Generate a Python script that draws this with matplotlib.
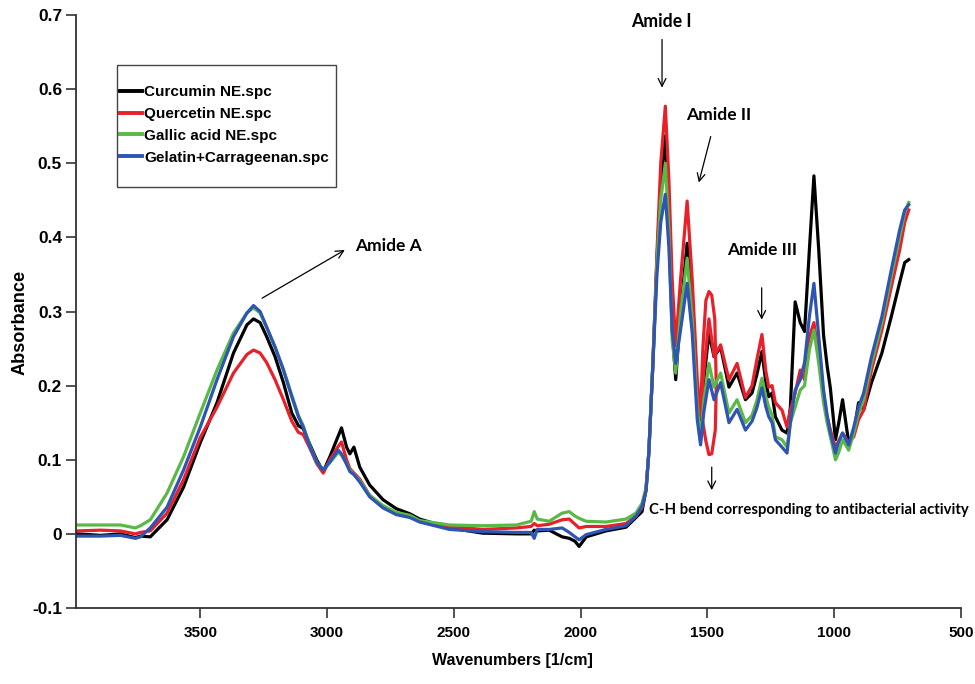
import matplotlib
matplotlib.use("Agg")
import matplotlib.pyplot as plt
from matplotlib import font_manager
from matplotlib.patches import Rectangle

# ---------------- data ----------------
wavenumber = [
    3984, 3893, 3815, 3756, 3736,
    3697, 3631, 3566, 3500, 3434, 3369, 3316, 3290, 3264, 3238, 3205, 3172, 3139, 3113,
    3094, 3067, 3041, 3015, 2989, 2956, 2943, 2923, 2910, 2894, 2871, 2832, 2779, 2727, 2673,
    2635, 2517, 2387, 2254, 2195, 2183, 2171, 2124, 2073, 2045, 2022, 2006, 1978, 1900, 1821,
    1782, 1758,
    1742, 1731, 1715, 1699, 1684, 1666, 1652, 1639, 1625, 1606,
    1580, 1560, 1540, 1527, 1514, 1494, 1474, 1448, 1415, 1383,
    1350, 1324, 1305, 1285, 1270, 1258, 1245, 1232, 1206, 1186,
    1173, 1154, 1134, 1117, 1098, 1080, 1061, 1042, 1028, 1015,
    995, 982, 967, 943, 923, 904, 884, 853, 812, 775,
    742, 722, 706,
]

curcumin = [
    0.0, -0.002, 0.0, -0.005, -0.003,
    -0.004, 0.019, 0.063, 0.123, 0.177, 0.244, 0.282, 0.29, 0.285, 0.266, 0.239, 0.204, 0.163, 0.146,
    0.142, 0.12, 0.1, 0.084, 0.104, 0.132, 0.143, 0.117, 0.108, 0.117, 0.09, 0.066, 0.046, 0.034, 0.027,
    0.02, 0.008, 0.001, 0.0, 0.0, 0.005, 0.004, 0.005, -0.004, -0.006, -0.01, -0.017, -0.004, 0.004, 0.009,
    0.022, 0.03,
    0.06, 0.11, 0.23, 0.37, 0.47, 0.537, 0.433, 0.275, 0.208, 0.298,
    0.392, 0.298, 0.185, 0.14, 0.208, 0.271, 0.239, 0.252, 0.198, 0.217,
    0.181, 0.19, 0.215, 0.246, 0.205, 0.185, 0.19, 0.158, 0.14, 0.136,
    0.17, 0.313, 0.285, 0.273, 0.383, 0.483, 0.383, 0.268, 0.227, 0.196,
    0.127, 0.15, 0.181, 0.123, 0.136, 0.177, 0.167, 0.204, 0.244, 0.293,
    0.339, 0.366, 0.37,
]

quercetin = [
    0.004, 0.005, 0.004, 0.0, 0.002,
    0.004, 0.028, 0.073, 0.13, 0.171, 0.217, 0.242, 0.248, 0.244, 0.231, 0.208, 0.181, 0.152, 0.137,
    0.134, 0.115, 0.095, 0.082, 0.1, 0.118, 0.124, 0.1, 0.088, 0.082, 0.074, 0.052, 0.036, 0.027, 0.023,
    0.017, 0.01, 0.006, 0.008, 0.01, 0.014, 0.011, 0.013, 0.019, 0.02, 0.013, 0.008, 0.01, 0.01, 0.014,
    0.024, 0.035,
    0.06, 0.11, 0.23, 0.38, 0.50, 0.577, 0.478, 0.343, 0.254, 0.343,
    0.449, 0.343, 0.208, 0.164, 0.22, 0.29, 0.24, 0.255, 0.208, 0.23,
    0.184, 0.2, 0.235, 0.269, 0.22, 0.198, 0.2, 0.177, 0.167, 0.144,
    0.167, 0.19, 0.221, 0.208, 0.266, 0.285, 0.239, 0.185, 0.158, 0.14,
    0.117, 0.125, 0.136, 0.123, 0.131, 0.154, 0.167, 0.221, 0.275, 0.333,
    0.383, 0.42, 0.437,
]

# extra closed loop of the Quercetin trace around 1500 cm-1
quercetin_loop_wn = [1527, 1518, 1506, 1494, 1483, 1471, 1465, 1469, 1483, 1494, 1506, 1518, 1527]
quercetin_loop_abs = [0.164, 0.25, 0.315, 0.327, 0.322, 0.29, 0.2, 0.14, 0.108, 0.107, 0.125, 0.15, 0.164]

gallic = [
    0.012, 0.012, 0.012, 0.008, 0.011,
    0.019, 0.055, 0.104, 0.163, 0.221, 0.271, 0.298, 0.305, 0.298, 0.278, 0.252, 0.222, 0.187, 0.16,
    0.146, 0.118, 0.097, 0.087, 0.096, 0.11, 0.106, 0.095, 0.086, 0.08, 0.072, 0.052, 0.038, 0.029, 0.025,
    0.018, 0.012, 0.011, 0.012, 0.017, 0.03, 0.02, 0.017, 0.028, 0.03, 0.024, 0.021, 0.017, 0.016, 0.02,
    0.028, 0.041,
    0.062, 0.11, 0.23, 0.365, 0.45, 0.50, 0.41, 0.262, 0.217, 0.298,
    0.372, 0.289, 0.171, 0.127, 0.18, 0.23, 0.198, 0.217, 0.163, 0.181,
    0.15, 0.16, 0.18, 0.21, 0.185, 0.171, 0.16, 0.131, 0.127, 0.117,
    0.15, 0.171, 0.194, 0.2, 0.248, 0.275, 0.23, 0.177, 0.15, 0.131,
    0.10, 0.11, 0.127, 0.113, 0.136, 0.163, 0.181, 0.23, 0.285, 0.347,
    0.401, 0.433, 0.447,
]

gelatin = [
    -0.003, -0.003, -0.002, -0.006, -0.004,
    0.008, 0.036, 0.086, 0.144, 0.208, 0.266, 0.298, 0.308, 0.30, 0.279, 0.252, 0.221, 0.185, 0.158,
    0.144, 0.117, 0.097, 0.086, 0.097, 0.113, 0.108, 0.094, 0.084, 0.08, 0.07, 0.05, 0.035, 0.026, 0.022,
    0.016, 0.006, 0.003, 0.002, 0.002, -0.006, 0.006, 0.006, 0.008, 0.002, -0.004, -0.008, -0.001, 0.006, 0.011,
    0.024, 0.037,
    0.058, 0.11, 0.23, 0.35, 0.42, 0.458, 0.387, 0.275, 0.23, 0.275,
    0.338, 0.271, 0.154, 0.12, 0.165, 0.208, 0.181, 0.204, 0.15, 0.168,
    0.14, 0.152, 0.17, 0.197, 0.172, 0.158, 0.15, 0.127, 0.117, 0.109,
    0.15, 0.194, 0.208, 0.231, 0.293, 0.338, 0.266, 0.194, 0.16, 0.136,
    0.109, 0.125, 0.136, 0.12, 0.144, 0.171, 0.19, 0.239, 0.293, 0.356,
    0.41, 0.437, 0.444,
]

series_names = ["Curcumin NE.spc", "Quercetin NE.spc", "Gallic acid NE.spc", "Gelatin+Carrageenan.spc"]
series_colors = ["#000000", "#e8202a", "#5ab946", "#2f55b4"]

x_ticks = [3500, 3000, 2500, 2000, 1500, 1000, 500]
y_ticks = [-0.1, 0, 0.1, 0.2, 0.3, 0.4, 0.5, 0.6, 0.7]
y_tick_labels = ["-0.1", "0", "0.1", "0.2", "0.3", "0.4", "0.5", "0.6", "0.7"]


def pick(*names):
    avail = {f.name for f in font_manager.fontManager.ttflist}
    for n in names:
        if n in avail:
            return n
    return "DejaVu Sans"


narrow = pick("Liberation Sans Narrow", "Liberation Sans")
arial = pick("Liberation Sans", "DejaVu Sans")
calib = pick("Lato", "Open Sans", "DejaVu Sans")

W, H = 975, 684
fig = plt.figure(figsize=(W / 100, H / 100), dpi=100)
renderer = fig.canvas.get_renderer()


def fit_size(text, family, target_px, base=12.0, dim="width", rotation=0):
    t = fig.text(0, 0, text, fontfamily=family, fontweight="bold", fontsize=base, rotation=rotation)
    bb = t.get_window_extent(renderer)
    t.remove()
    cur = bb.width if dim == "width" else bb.height
    return base * target_px / cur


AX_L, AX_R, AX_T, AX_B = 76, 961, 15, 608
ax = fig.add_axes([AX_L / W, 1 - AX_B / H, (AX_R - AX_L) / W, (AX_B - AX_T) / H])

series = [curcumin, quercetin, gallic, gelatin]
for vals, name, col in zip(series, series_names, series_colors):
    ax.plot(wavenumber, vals, color=col, lw=2.3, label=name, solid_joinstyle="round")
    if vals is quercetin:
        ax.plot(quercetin_loop_wn, quercetin_loop_abs, color=col, lw=2.3, solid_joinstyle="round")

ax.set_xlim(3990, 500)
ax.set_ylim(-0.1, 0.7)
ax.set_xticks(x_ticks)
ax.set_xticklabels([str(t) for t in x_ticks])
ax.set_yticks(y_ticks)
ax.set_yticklabels(y_tick_labels)

for s in ["top", "right"]:
    ax.spines[s].set_visible(False)
for s in ["left", "bottom"]:
    ax.spines[s].set_color("#333333")
    ax.spines[s].set_linewidth(1.3)

ax.tick_params(axis="both", direction="out", length=7, width=1.2, color="#333333")
ax.tick_params(axis="y", pad=3)
ax.tick_params(axis="x", pad=6)
for lab in ax.get_xticklabels():
    lab.set_fontfamily(narrow)
    lab.set_fontweight("bold")
    lab.set_fontsize(11)
for lab in ax.get_yticklabels():
    lab.set_fontfamily(arial)
    lab.set_fontweight("bold")
    lab.set_fontsize(12.5)

fig.text(512 / W, 1 - 660 / H, "Wavenumbers [1/cm]", ha="center", va="center",
         fontfamily=narrow, fontweight="bold", fontsize=11.5)
yl_size = fit_size("Absorbance", arial, 104)
fig.text(20 / W, 1 - 322 / H, "Absorbance", ha="center", va="center", rotation=90,
         fontfamily=arial, fontweight="bold", fontsize=yl_size)

# legend: frame drawn as a plain rectangle, entries via the legend machinery
fig.patches.append(Rectangle((117 / W, 1 - 187 / H), (336 - 117) / W, (187 - 65) / H,
                             transform=fig.transFigure, fill=False, edgecolor="#444444", lw=1.0))
leg_size = fit_size("Gelatin+Carrageenan.spc", arial, 184)
fpx = leg_size * 100 / 72.0
row_gap = 23.3
lspace = (row_gap + 2.3) / fpx - 1.16
leg = ax.legend(loc="upper left", bbox_to_anchor=(120 / W, 1 - (94 - 0.58 * fpx) / H),
                bbox_transform=fig.transFigure, borderaxespad=0, borderpad=0, frameon=False,
                handlelength=22 / fpx, handletextpad=2.5 / fpx, labelspacing=lspace,
                prop={"family": arial, "weight": "bold", "size": leg_size})
for line in leg.get_lines():
    line.set_linewidth(2.8)

arrow = dict(arrowstyle="->", color="black", lw=0.9, shrinkA=0, shrinkB=0, mutation_scale=14)


def label(text, x, y, target_w):
    size = fit_size(text, calib, target_w)
    ax.text(x, y, text, ha="center", va="center", fontfamily=calib, fontweight="bold",
            fontsize=size, color="black")


label("Amide I", 1683, 0.691, 60)
ax.annotate("", xy=(1679, 0.602), xytext=(1679, 0.667), arrowprops=arrow)

label("Amide II", 1455, 0.565, 65)
ax.annotate("", xy=(1534, 0.474), xytext=(1487, 0.536), arrowprops=arrow)

label("Amide III", 1286, 0.383, 70)
ax.annotate("", xy=(1286, 0.289), xytext=(1286, 0.332), arrowprops=arrow)

label("Amide A", 2757, 0.389, 66)
ax.annotate("", xy=(2930, 0.383), xytext=(3256, 0.318), arrowprops=arrow)

ax.annotate("", xy=(1483, 0.059), xytext=(1483, 0.090), arrowprops=arrow)
label("C-H bend corresponding to antibacterial activity", 1098, 0.032, 317)

fig.savefig("out.png", dpi=100)
